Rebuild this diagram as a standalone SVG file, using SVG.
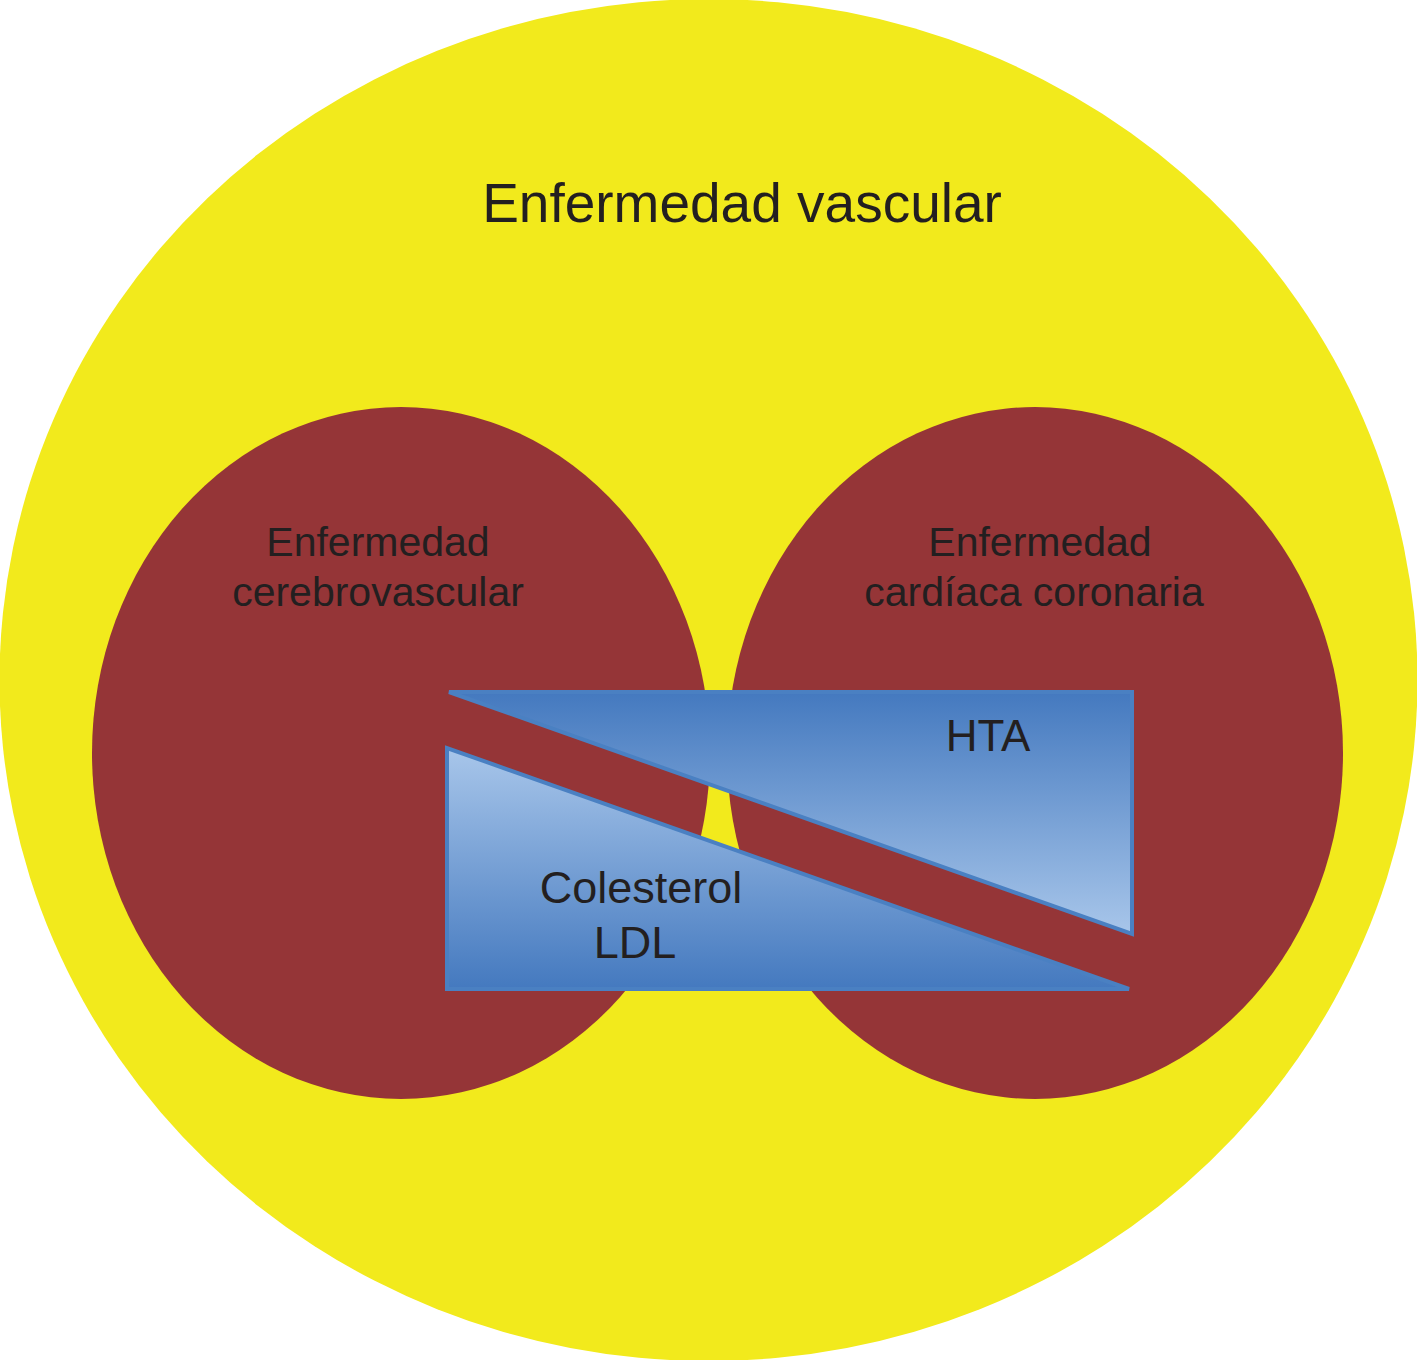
<svg xmlns="http://www.w3.org/2000/svg" width="1417" height="1360" viewBox="0 0 1417 1360">
<style>
text{font-family:"Liberation Sans",Arial,Helvetica,sans-serif;fill:#231f20;text-anchor:middle}
.tri{stroke:#4a80c2;stroke-width:4;stroke-linejoin:miter}
</style>
<defs>
<linearGradient id="gHTA" x1="0" y1="0" x2="0" y2="1">
<stop offset="0" stop-color="#4479bf"/>
<stop offset="1" stop-color="#a8c6ea"/>
</linearGradient>
<linearGradient id="gLDL" x1="0" y1="0" x2="0" y2="1">
<stop offset="0" stop-color="#a8c6ea"/>
<stop offset="1" stop-color="#4479bf"/>
</linearGradient>
</defs>
<g id="vascular">
<ellipse cx="708.5" cy="680" rx="709" ry="681" fill="#f2ea1c"/>
<text x="742" y="222" font-size="55">Enfermedad vascular</text>
</g>
<g id="cerebro">
<ellipse cx="401" cy="753" rx="309" ry="346" fill="#953537"/>
<text x="378" y="556" font-size="41">Enfermedad</text>
<text x="378" y="606" font-size="41">cerebrovascular</text>
</g>
<g id="coronaria">
<ellipse cx="1035" cy="753" rx="308" ry="346" fill="#953537"/>
<text x="1040" y="556" font-size="41">Enfermedad</text>
<text x="1034" y="606" font-size="41">cardíaca coronaria</text>
</g>
<g id="hta">
<polygon class="tri" points="449,692 1132,692 1132,934" fill="url(#gHTA)"/>
<text x="988" y="751" font-size="44">HTA</text>
</g>
<g id="ldl">
<polygon class="tri" points="447,748 447,989 1129,989" fill="url(#gLDL)"/>
<text x="641" y="903" font-size="45">Colesterol</text>
<text x="635" y="958" font-size="45">LDL</text>
</g>
<g id="connectors"></g>
</svg>
